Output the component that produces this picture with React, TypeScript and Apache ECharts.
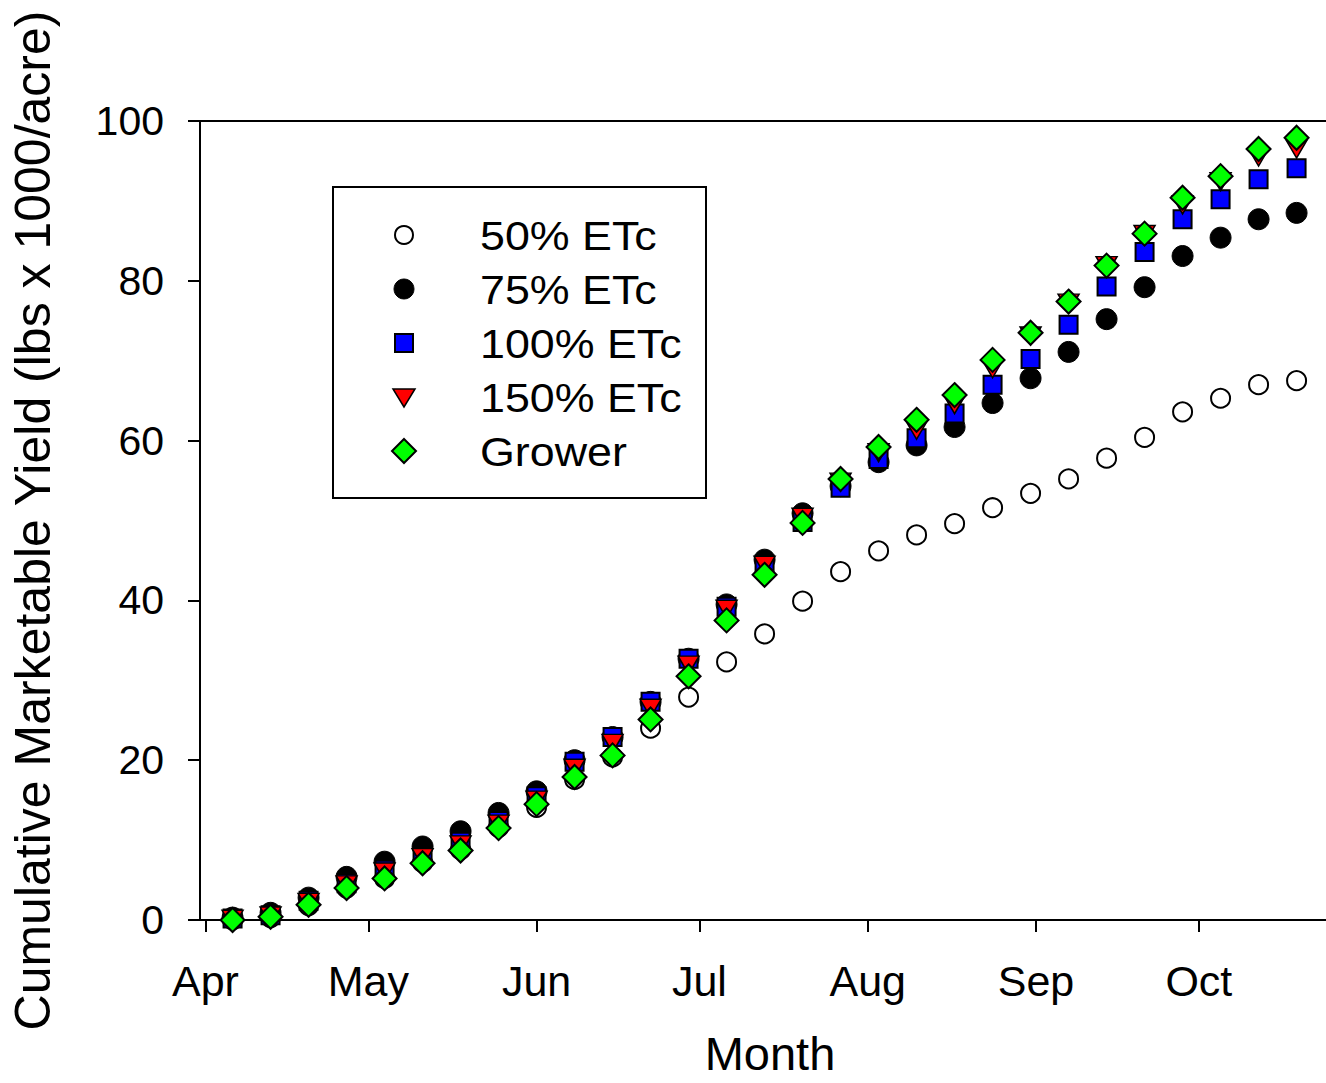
import React, { useEffect, useRef } from "react";
import * as echarts from "echarts";

// Sampling dates, in days after April 1
const sampleDays = [5, 12, 19, 26, 33, 40, 47, 54, 61, 68, 75, 82, 89, 96, 103, 110, 117, 124, 131, 138, 145, 152, 159, 166, 173, 180, 187, 194, 201];

// Month tick positions (days after April 1) and labels
const monthStarts = [0, 30, 61, 91, 122, 153, 183];
const monthNames = ["Apr", "May", "Jun", "Jul", "Aug", "Sep", "Oct"];

const yTicks = [0, 20, 40, 60, 80, 100];

const etc50 = [0.0, 0.3, 1.8, 4.0, 5.2, 7.2, 8.8, 11.6, 14.1, 17.6, 20.4, 24.0, 27.9, 32.3, 35.8, 39.9, 43.6, 46.2, 48.2, 49.6, 51.6, 53.4, 55.2, 57.8, 60.4, 63.6, 65.3, 67.0, 67.5];
const etc75 = [0.3, 0.9, 2.8, 5.4, 7.3, 9.2, 11.1, 13.4, 16.1, 20.0, 22.9, 27.3, 32.7, 39.5, 45.1, 50.9, 54.3, 57.3, 59.4, 61.7, 64.7, 67.8, 71.1, 75.2, 79.2, 83.1, 85.4, 87.7, 88.5];
const etc100 = [0.2, 0.6, 2.4, 4.6, 6.3, 8.0, 9.8, 12.4, 15.5, 19.8, 22.9, 27.3, 32.7, 39.2, 44.5, 49.8, 54.1, 57.7, 60.3, 63.4, 67.0, 70.2, 74.5, 79.3, 83.6, 87.7, 90.2, 92.7, 94.1];
const etc150 = [0.1, 0.5, 2.2, 4.4, 6.0, 7.8, 9.4, 12.0, 15.0, 19.0, 22.1, 26.5, 31.9, 38.9, 44.4, 50.4, 54.8, 58.5, 61.3, 64.5, 69.0, 73.1, 77.2, 81.9, 85.8, 89.5, 92.4, 95.5, 96.5];
const grower = [0.0, 0.4, 1.9, 4.0, 5.2, 7.1, 8.7, 11.5, 14.5, 17.9, 20.6, 25.1, 30.5, 37.5, 43.2, 49.7, 55.2, 59.2, 62.6, 65.7, 70.1, 73.5, 77.4, 81.9, 85.9, 90.4, 93.1, 96.5, 97.9];

const seriesNames = ["50% ETc", "75% ETc", "100% ETc", "150% ETc", "Grower"];

const FONT = '"Liberation Sans", Arial, Helvetica, sans-serif';

const SQUARE = "path://M0,0H10V10H0Z";
const DIAMOND = "path://M5,0L10,5L5,10L0,5Z";
const TRIANGLE_DOWN = "path://M0,0H10L5,8.7Z";

function pairs(ys: number[]) {
  return sampleDays.map((d, i) => [d, ys[i]]);
}

// Legend geometry
const LEG_X = 333;
const LEG_Y = 187;
const LEG_W = 373;
const LEG_H = 311;
const LEG_SYM_X = 404;
const LEG_TEXT_X = 480;
const LEG_ROW0 = 235;
const LEG_ROW_GAP = 54;

function legendSymbol(i: number, cy: number): any {
  const cx = LEG_SYM_X;
  switch (i) {
    case 0:
      return { type: "circle", shape: { cx, cy, r: 9 }, style: { fill: "#fff", stroke: "#000", lineWidth: 2 } };
    case 1:
      return { type: "circle", shape: { cx, cy, r: 10 }, style: { fill: "#000", stroke: "#000", lineWidth: 1 } };
    case 2:
      return { type: "rect", shape: { x: cx - 9, y: cy - 9, width: 18, height: 18 }, style: { fill: "#0000ff", stroke: "#000", lineWidth: 2 } };
    case 3:
      return {
        type: "polygon",
        shape: { points: [[cx - 11, cy - 8], [cx + 11, cy - 8], [cx, cy + 10]] },
        style: { fill: "#ff0000", stroke: "#000", lineWidth: 1.5 },
      };
    default:
      return {
        type: "polygon",
        shape: { points: [[cx, cy - 12], [cx + 12, cy], [cx, cy + 12], [cx - 12, cy]] },
        style: { fill: "#00ff00", stroke: "#000", lineWidth: 2 },
      };
  }
}

export default function App() {
  const ref = useRef<HTMLDivElement>(null);

  useEffect(() => {
    document.body.style.margin = "0";
    if (!ref.current) return;
    const chart = echarts.init(ref.current, null, { renderer: "svg" });

    const legendElements: any[] = [
      {
        type: "rect",
        shape: { x: LEG_X, y: LEG_Y, width: LEG_W, height: LEG_H },
        style: { fill: "#fff", stroke: "#000", lineWidth: 2 },
        z: 100,
      },
    ];
    seriesNames.forEach((name, i) => {
      const cy = LEG_ROW0 + i * LEG_ROW_GAP;
      const sym = legendSymbol(i, cy);
      sym.z = 101;
      legendElements.push(sym);
      legendElements.push({
        type: "text",
        x: LEG_TEXT_X,
        y: cy + 1,
        scaleX: 1.12,
        style: {
          text: name,
          x: 0,
          y: 0,
          fontFamily: FONT,
          fontSize: 40,
          fill: "#000",
          align: "left",
          verticalAlign: "middle",
        },
        z: 101,
      });
    });

    const option: any = {
      animation: false,
      backgroundColor: "#ffffff",
      textStyle: { fontFamily: FONT, color: "#000" },
      grid: {
        left: 200,
        width: 1140,
        top: 121,
        height: 799,
        outerBoundsMode: "none",
        containLabel: false,
        show: true,
        borderColor: "#000",
        borderWidth: 2,
        backgroundColor: "transparent",
      },
      graphic: legendElements,
      xAxis: {
        type: "value",
        min: -1,
        max: 209,
        name: "Month",
        nameLocation: "middle",
        nameGap: 110,
        nameTextStyle: { fontFamily: FONT, fontSize: 47, color: "#000" },
        splitLine: { show: false },
        axisLine: { show: true, onZero: false, lineStyle: { color: "#000", width: 2 } },
        axisTick: {
          show: true,
          inside: false,
          length: 12,
          customValues: monthStarts,
          lineStyle: { color: "#000", width: 2 },
        },
        axisLabel: {
          customValues: monthStarts,
          margin: 39,
          fontFamily: FONT,
          fontSize: 43,
          color: "#000",
          formatter: (v: number) => {
            const idx = monthStarts.indexOf(v);
            return idx >= 0 ? monthNames[idx] : "";
          },
        },
      },
      yAxis: {
        type: "value",
        min: 0,
        max: 100,
        interval: 20,
        name: "Cumulative Marketable Yield (lbs x 1000/acre)",
        nameLocation: "middle",
        nameGap: 142,
        nameTextStyle: { fontFamily: FONT, fontSize: 50, color: "#000" },
        splitLine: { show: false },
        axisLine: { show: true, onZero: false, lineStyle: { color: "#000", width: 2 } },
        axisTick: { show: true, inside: false, length: 12, lineStyle: { color: "#000", width: 2 } },
        axisLabel: {
          margin: 36,
          fontFamily: FONT,
          fontSize: 41,
          color: "#000",
          customValues: yTicks,
        },
      },
      series: [
        {
          name: seriesNames[0],
          type: "scatter",
          data: pairs(etc50),
          symbol: "circle",
          symbolSize: 19,
          itemStyle: { color: "#ffffff", borderColor: "#000", borderWidth: 2, opacity: 1 },
          z: 2,
        },
        {
          name: seriesNames[1],
          type: "scatter",
          data: pairs(etc75),
          symbol: "circle",
          symbolSize: 21,
          itemStyle: { color: "#000000", borderColor: "#000", borderWidth: 1, opacity: 1 },
          z: 3,
        },
        {
          name: seriesNames[2],
          type: "scatter",
          data: pairs(etc100),
          symbol: SQUARE,
          symbolSize: [18, 18],
          itemStyle: { color: "#0000ff", borderColor: "#000", borderWidth: 2, opacity: 1 },
          z: 4,
        },
        {
          name: seriesNames[3],
          type: "scatter",
          data: pairs(etc150),
          symbol: TRIANGLE_DOWN,
          symbolSize: [21, 18],
          itemStyle: { color: "#ff0000", borderColor: "#000", borderWidth: 1.5, opacity: 1 },
          z: 5,
        },
        {
          name: seriesNames[4],
          type: "scatter",
          data: pairs(grower),
          symbol: DIAMOND,
          symbolSize: [24, 24],
          itemStyle: { color: "#00ff00", borderColor: "#000", borderWidth: 2, opacity: 1 },
          z: 6,
        },
      ],
    };

    chart.setOption(option);
    return () => chart.dispose();
  }, []);

  return <div ref={ref} style={{ width: 1326, height: 1083 }} />;
}
